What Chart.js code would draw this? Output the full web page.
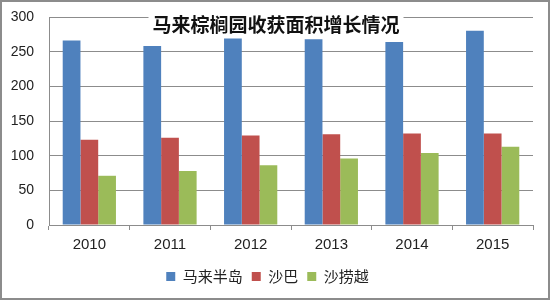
<!DOCTYPE html>
<html>
<head>
<meta charset="utf-8">
<script src="https://cdn.jsdelivr.net/npm/chart.js@4"></script>
<style>
    html, body { margin: 0; padding: 0; background: #fff; }
    #wrap {
        width: 550px; height: 300px;
        box-sizing: border-box;
        border: 2px solid #8c8c8c;
        position: relative;
    }
</style>
</head>
<body>
<div id="wrap"><canvas id="areaChart"></canvas></div>
<script>
// Ma'lumotlar
const years = ['2010', '2011', '2012', '2013', '2014', '2015'];
const malayPeninsula = [266, 258, 269, 268, 264, 280];
const sabah = [123, 126, 129, 131, 132, 132];
const sarawak = [71, 78, 86, 96, 104, 113];
const yTicks = [0, 50, 100, 150, 200, 250, 300];

const chartTitle = '马来棕榈园收获面积增长情况';

// Sarlavha: panjara chiziqlari ustida, oq fon bilan
const titlePlugin = {
    id: 'innerTitle',
    beforeDatasetsDraw(chart) {
        const ctx = chart.ctx;
        const area = chart.chartArea;
        const cx = chart.width / 2 + 1;
        const cy = area.top + 8;
        ctx.save();
        ctx.font = 'bold 19px "Noto Sans CJK SC"';
        const w = ctx.measureText(chartTitle).width;
        ctx.fillStyle = '#ffffff';
        ctx.fillRect(cx - w / 2 - 4, area.top - 4, w + 8, 24);
        ctx.fillStyle = '#111111';
        ctx.textAlign = 'center';
        ctx.textBaseline = 'middle';
        ctx.fillText(chartTitle, cx, cy);
        ctx.restore();
    }
};

new Chart(document.getElementById('areaChart'), {
    type: 'bar',
    data: {
        labels: years,
        datasets: [{
            label: '马来半岛',
            data: malayPeninsula,
            backgroundColor: '#4f81bd'
        }, {
            label: '沙巴',
            data: sabah,
            backgroundColor: '#c0504d'
        }, {
            label: '沙捞越',
            data: sarawak,
            backgroundColor: '#9bbb59'
        }]
    },
    options: {
        responsive: true,
        maintainAspectRatio: false,
        animation: false,
        layout: {
            padding: { left: 0, right: 15, top: 15, bottom: 4 }
        },
        datasets: {
            bar: { barPercentage: 1, categoryPercentage: 0.66 }
        },
        plugins: {
            legend: {
                position: 'bottom',
                labels: {
                    boxWidth: 9,
                    boxHeight: 9,
                    padding: 9,
                    color: '#222',
                    font: { family: '"Noto Sans CJK SC"', size: 15 }
                }
            },
            title: { display: false },
            tooltip: { enabled: false }
        },
        scales: {
            x: {
                grid: {
                    drawOnChartArea: false,
                    drawTicks: true,
                    tickLength: 5,
                    color: '#8c8c8c'
                },
                border: { color: '#8c8c8c' },
                ticks: {
                    color: '#222',
                    padding: 6,
                    font: { family: '"Liberation Sans"', size: 15 }
                }
            },
            y: {
                min: 0,
                max: 300,
                afterBuildTicks(axis) {
                    axis.ticks = yTicks.map(v => ({ value: v }));
                },
                afterFit(axis) {
                    axis.width = 47;
                },
                grid: {
                    drawTicks: true,
                    tickLength: 13,
                    tickColor: 'rgba(0,0,0,0)',
                    color: '#8c8c8c'
                },
                border: { color: '#8c8c8c' },
                ticks: {
                    color: '#222',
                    padding: 2,
                    font: { family: '"Liberation Sans"', size: 14 }
                }
            }
        }
    },
    plugins: [titlePlugin]
});
</script>
</body>
</html>
